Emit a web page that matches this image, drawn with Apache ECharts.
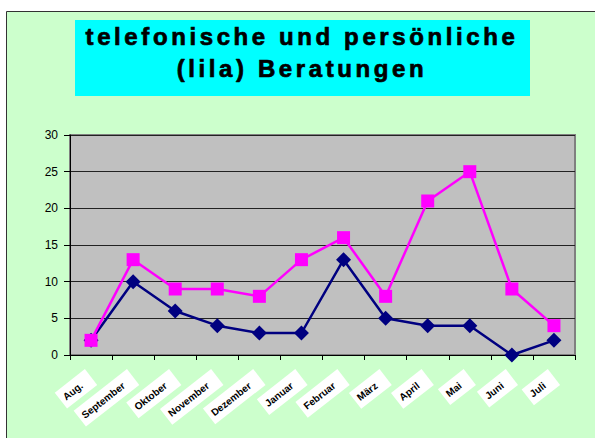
<!DOCTYPE html>
<html>
<head>
<meta charset="utf-8">
<script src="https://cdn.jsdelivr.net/npm/echarts@6/dist/echarts.min.js"></script>
<style>
  html, body { margin: 0; padding: 0; background: #fff; }
  #chart { width: 595px; height: 438px; }
</style>
</head>
<body>
<div id="chart"></div>
<script>
// Monate (Beschriftung der x-Achse)
var monate = ['Aug.', 'September', 'Oktober', 'November', 'Dezember', 'Januar',
              'Februar', 'März', 'April', 'Mai', 'Juni', 'Juli'];
// telefonische Beratungen (blau)
var telefonisch = [2, 10, 6, 4, 3, 3, 13, 5, 4, 4, 0, 2];
// persönliche Beratungen (lila)
var persoenlich = [2, 13, 9, 9, 8, 13, 16, 8, 21, 25, 9, 4];
var titelZeilen = ['telefonische und persönliche', '(lila) Beratungen'];

var option = {
    backgroundColor: '#ffffff',
    animation: false,
    graphic: [
        // Rahmen / Hintergrund
        {
            type: 'rect', z: -10,
            shape: { x: 6.5, y: 11.5, width: 600, height: 440 },
            style: { fill: '#ccffcc', stroke: '#333333', lineWidth: 1 }
        },
        // Titelkasten
        {
            type: 'rect', z: -5,
            shape: { x: 75, y: 20, width: 455, height: 76 },
            style: { fill: '#00ffff' }
        },
        {
            type: 'text', z: 10,
            x: 302, y: 21,
            style: {
                text: titelZeilen.join('\n'),
                textAlign: 'center',
                fill: '#000000',
                stroke: '#000000',
                lineWidth: 0.7,
                font: 'bold 24px "Liberation Sans", Arial, sans-serif',
                lineHeight: 31.5
            }
        }
    ],
    grid: {
        left: 70, top: 135, right: 20, bottom: 83,
        show: true,
        backgroundColor: '#c0c0c0',
        borderColor: '#808080',
        borderWidth: 2
    },
    xAxis: {
        type: 'category',
        data: monate,
        boundaryGap: true,
        axisLine: { lineStyle: { color: '#000', width: 1 } },
        axisTick: { show: true, length: 5, lineStyle: { color: '#000' } },
        axisLabel: {
            interval: 0,
            rotate: 38,
            margin: 22,
            color: '#000',
            fontSize: 10,
            fontWeight: 'bold',
            fontFamily: '"Liberation Sans", Arial, sans-serif',
            backgroundColor: '#ffffff',
            padding: [5, 12, 5, 4]
        },
        splitLine: { show: false }
    },
    yAxis: {
        type: 'value',
        min: 0, max: 30, interval: 5,
        axisLine: { show: true, lineStyle: { color: '#000', width: 1 } },
        axisTick: { show: true, length: 6, lineStyle: { color: '#000' } },
        axisLabel: {
            color: '#000', fontSize: 12, margin: 12,
            fontFamily: '"Liberation Sans", Arial, sans-serif'
        },
        splitLine: { show: true, lineStyle: { color: '#222222', width: 1 } }
    },
    series: [
        {
            name: 'telefonisch',
            type: 'line',
            data: telefonisch,
            symbol: 'diamond',
            symbolSize: 15,
            itemStyle: { color: '#000080' },
            lineStyle: { color: '#000080', width: 2.5 },
            z: 2
        },
        {
            name: 'persönlich',
            type: 'line',
            data: persoenlich,
            symbol: 'rect',
            symbolSize: 13,
            itemStyle: { color: '#ff00ff' },
            lineStyle: { color: '#ff00ff', width: 2.5 },
            z: 3
        }
    ]
};

var myChart = echarts.init(document.getElementById('chart'), null, { renderer: 'svg' });
myChart.setOption(option);

// gesperrte Schrift im Titel wie im Original
var texte = document.querySelectorAll('#chart text');
for (var i = 0; i < texte.length; i++) {
    if (titelZeilen.indexOf(texte[i].textContent) >= 0) {
        texte[i].style.letterSpacing = '3.6px';
    }
}
</script>
</body>
</html>
